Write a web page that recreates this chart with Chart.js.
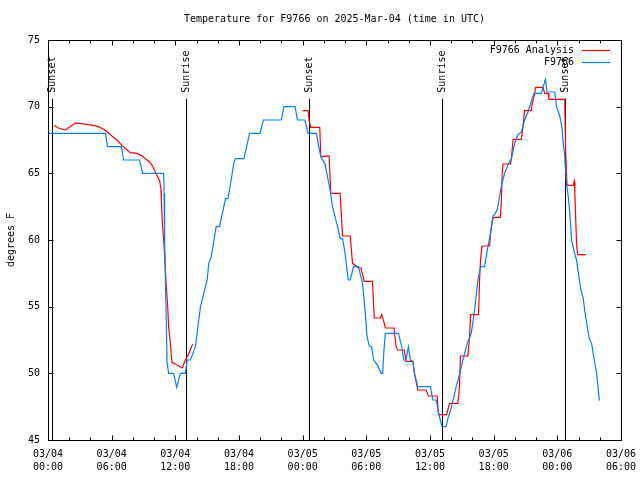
<!DOCTYPE html>
<html>
<head>
<meta charset="utf-8">
<script src="https://cdn.jsdelivr.net/npm/chart.js@4.4.1/dist/chart.umd.min.js"></script>
<style>
  html, body { margin: 0; padding: 0; background: #ffffff; }
  #wrap { width: 640px; height: 480px; position: relative; }
</style>
</head>
<body>
<div id="wrap"><canvas id="tempchart" width="640" height="480"></canvas></div>
<script>
// hours since 03/04 00:00 UTC
const blueHours = [0.09, 5.42, 5.60, 6.93, 7.12, 8.63, 8.91, 10.90, 10.94, 10.99, 11.12, 11.22, 11.37, 11.84, 12.13,
    12.48, 12.95, 13.11, 13.42, 13.89, 14.05, 14.37, 15.00, 15.15, 15.38, 15.85, 16.16, 16.73, 16.95, 17.14,
    17.51, 17.67, 18.46, 19.00, 19.97, 20.29, 21.99, 22.24, 23.28, 23.51, 24.22, 24.51, 25.30, 25.45, 25.71,
    26.09, 26.59, 26.81, 27.29, 27.53, 27.76, 27.98, 28.14, 28.29, 28.48, 28.80, 29.25, 29.65, 29.80, 29.96,
    30.06, 30.27, 30.50, 30.69, 31.07, 31.38, 31.54, 31.64, 31.79, 33.02, 33.34, 33.53, 33.74, 33.96, 34.15,
    34.38, 34.53, 34.85, 36.04, 36.27, 36.58, 36.89, 37.12, 37.52, 37.68, 38.00, 38.25, 38.47, 38.78, 39.10,
    39.51, 39.89, 40.20, 40.52, 40.77, 41.14, 41.30, 41.46, 41.71, 41.94, 42.16, 42.34, 42.50, 42.66, 43.03,
    43.41, 43.67, 43.98, 44.30, 44.61, 44.92, 45.24, 45.62, 45.81, 46.50, 46.76, 46.88, 47.02, 47.76, 47.92,
    48.23, 48.44, 48.55, 48.68, 48.77, 48.87, 49.03, 49.18, 49.34, 49.59, 49.81, 50.03, 50.22, 50.44, 50.60,
    50.82, 51.01, 51.23, 51.48, 51.70, 51.86, 51.96];
const blueTemps = [68.0, 68.0, 67.0, 67.0, 66.0, 66.0, 65.0, 65.0, 63.5, 60.0, 55.0, 50.8, 50.0, 50.0, 48.95,
    50.0, 50.0, 51.0, 51.0, 52.0, 53.0, 55.0, 57.0, 58.25, 58.75, 61.0, 61.0, 63.1, 63.1, 63.9,
    65.75, 66.1, 66.1, 68.0, 68.0, 69.0, 69.0, 70.0, 70.0, 69.0, 69.0, 68.0, 68.0, 67.25, 66.25,
    65.75, 63.75, 62.5, 61.0, 60.1, 60.1, 59.1, 58.0, 57.0, 57.0, 58.0, 58.0, 56.75, 55.4, 53.9,
    52.8, 52.05, 52.0, 51.0, 50.6, 50.0, 50.0, 51.5, 53.0, 53.0, 52.0, 51.0, 51.0, 52.0, 51.0,
    50.9, 50.0, 49.0, 49.0, 48.0, 48.0, 46.75, 46.0, 46.0, 46.6, 47.4, 48.25, 49.0, 49.9, 51.0,
    52.25, 53.0, 54.75, 57.0, 58.0, 58.0, 58.75, 59.5, 60.5, 61.8, 62.0, 62.3, 63.0, 63.8, 65.0,
    65.75, 66.1, 67.25, 67.9, 68.1, 69.0, 69.6, 70.6, 71.0, 71.0, 71.75, 72.05, 71.1, 71.1, 70.0,
    69.3, 68.4, 67.25, 66.5, 65.25, 64.25, 63.25, 62.0, 60.0, 59.1, 58.5, 57.25, 56.25, 55.6, 54.6,
    53.5, 52.6, 52.25, 51.0, 50.0, 48.75, 47.95];

const redHours = [0.57, 0.97, 1.61, 2.08, 2.55, 3.02, 4.28, 4.75, 5.23, 5.60, 6.02, 6.49, 6.97, 7.44, 7.75,
    8.38, 8.86, 9.33, 9.64, 9.90, 10.11, 10.33, 10.52, 10.65, 10.68, 10.78, 10.90, 10.99, 11.15, 11.28,
    11.37, 11.53, 11.60, 11.69, 12.00, 12.64, 12.95, 13.26, 13.58, 13.68,
    18.80,
    23.98, 24.51, 24.60, 24.76, 25.61, 25.71, 26.49, 26.65, 26.81, 27.53, 27.76, 28.48, 28.70, 29.18, 29.49,
    29.65, 29.80, 30.58, 30.75, 31.33, 31.45, 31.64, 31.79, 32.61, 32.80, 32.96, 33.58, 33.74, 34.38, 34.59,
    34.85, 35.63, 35.85, 36.67, 36.80, 37.57, 37.84, 38.63, 38.78, 38.87, 39.57, 39.73, 39.82, 40.58, 40.67,
    40.77, 40.90, 41.62, 41.71, 41.87, 42.03, 42.63, 42.72, 42.79, 42.88, 43.60, 43.67, 43.83, 44.61, 44.68,
    44.77, 44.92, 45.56, 45.62, 45.87, 45.94, 46.66, 46.81, 47.14, 47.21, 48.70, 48.77, 48.91, 49.50, 49.59,
    49.65, 49.81, 49.91, 50.69];
const redTemps = [68.6, 68.4, 68.25, 68.5, 68.75, 68.75, 68.6, 68.5, 68.3, 68.1, 67.8, 67.5, 67.1, 66.75, 66.55,
    66.5, 66.3, 66.0, 65.8, 65.5, 65.1, 64.75, 64.45, 63.75, 63.0, 61.25, 60.0, 58.9, 56.5, 55.0,
    53.5, 52.3, 51.5, 50.8, 50.7, 50.4, 51.0, 51.45, 52.1, 52.2,
    null,
    69.7, 69.7, 69.05, 68.45, 68.45, 66.25, 66.3, 63.5, 63.5, 63.5, 60.3, 60.3, 58.25, 57.95, 57.9,
    57.4, 56.9, 56.9, 54.15, 54.15, 54.4, 53.9, 53.4, 53.4, 52.0, 51.75, 51.75, 50.9, 50.9, 49.75,
    48.75, 48.75, 48.3, 48.3, 46.9, 46.9, 47.75, 47.75, 49.1, 51.3, 51.3, 52.75, 54.4, 54.4, 57.0,
    58.6, 59.55, 59.55, 60.6, 61.45, 61.7, 61.7, 62.75, 64.75, 65.7, 65.7, 66.1, 67.55, 67.55, 68.0,
    68.6, 69.7, 69.7, 70.2, 71.0, 71.45, 71.45, 71.0, 71.0, 70.55, 70.55, 67.0, 64.1, 64.1, 64.4,
    63.5, 59.75, 58.9, 58.9];

const sunHours = [0.41, 12.98, 24.60, 37.12, 48.70];
const sunLabels = ['Sunset', 'Sunrise', 'Sunset', 'Sunrise', 'Sunset'];
const sunLineTop = 70.6;

const yTickValues = [45, 50, 55, 60, 65, 70, 75];
const xStartDay = 4; // 03/04

const FONT = '10px "DejaVu Sans Mono", "Liberation Mono", monospace';

function toPoints(xs, ys) {
    return xs.map((x, i) => ({ x: x, y: ys[i] }));
}

function xTickLabel(value) {
    const day = xStartDay + Math.floor(value / 24);
    const hour = value % 24;
    return ['03/' + String(day).padStart(2, '0'), String(hour).padStart(2, '0') + ':00'];
}

// gnuplot style frame, inward ticks, sun markers, title and key
const gnuplotDecor = {
    id: 'gnuplotDecor',
    beforeDatasetsDraw(chart) {
        const ctx = chart.ctx;
        const xs = chart.scales.x;
        const ys = chart.scales.y;
        const area = chart.chartArea;
        ctx.save();
        ctx.strokeStyle = '#000000';
        ctx.lineWidth = 1;
        ctx.fillStyle = '#000000';
        ctx.font = FONT;
        sunHours.forEach((h, i) => {
            const px = Math.round(xs.getPixelForValue(h)) + 0.5;
            const top = ys.getPixelForValue(sunLineTop);
            ctx.beginPath();
            ctx.moveTo(px, top);
            ctx.lineTo(px, area.bottom);
            ctx.stroke();
            ctx.save();
            ctx.translate(px, top - 6);
            ctx.rotate(-Math.PI / 2);
            ctx.textAlign = 'left';
            ctx.textBaseline = 'middle';
            ctx.fillText(sunLabels[i], 0, 0);
            ctx.restore();
        });
        ctx.restore();
    },
    afterDraw(chart) {
        const ctx = chart.ctx;
        const xs = chart.scales.x;
        const ys = chart.scales.y;
        const a = chart.chartArea;
        const L = Math.round(a.left) + 0.5, R = Math.round(a.right) + 0.5;
        const T = Math.round(a.top) + 0.5, B = Math.round(a.bottom) + 0.5;
        ctx.save();
        ctx.strokeStyle = '#000000';
        ctx.lineWidth = 1;
        ctx.beginPath();
        // x ticks every 2 hours, major every 6
        for (let h = 0; h <= 54; h += 2) {
            const px = Math.round(xs.getPixelForValue(h)) + 0.5;
            const len = h % 6 === 0 ? 5 : 3;
            ctx.moveTo(px, B); ctx.lineTo(px, B - len);
            ctx.moveTo(px, T); ctx.lineTo(px, T + len);
        }
        yTickValues.forEach(v => {
            const py = Math.round(ys.getPixelForValue(v)) + 0.5;
            ctx.moveTo(L, py); ctx.lineTo(L + 5, py);
            ctx.moveTo(R, py); ctx.lineTo(R - 5, py);
        });
        ctx.stroke();
        ctx.strokeRect(L, T, R - L, B - T);

        ctx.fillStyle = '#000000';
        ctx.font = FONT;
        ctx.textBaseline = 'middle';
        ctx.textAlign = 'center';
        ctx.fillText('Temperature for F9766 on 2025-Mar-04 (time in UTC)', (a.left + a.right) / 2, 19);

        ctx.save();
        ctx.translate(11, (a.top + a.bottom) / 2);
        ctx.rotate(-Math.PI / 2);
        ctx.fillText('degrees F', 0, 0);
        ctx.restore();

        // key
        const keyItems = [chart.data.datasets[1], chart.data.datasets[0]];
        keyItems.forEach((ds, i) => {
            const y = 50 + i * 12;
            ctx.textAlign = 'right';
            ctx.fillStyle = '#000000';
            ctx.fillText(ds.label, 574, y);
            ctx.strokeStyle = ds.borderColor;
            ctx.lineWidth = 1.2;
            ctx.beginPath();
            ctx.moveTo(582, Math.round(y) + 0.5);
            ctx.lineTo(610, Math.round(y) + 0.5);
            ctx.stroke();
        });
        ctx.restore();
    }
};

const config = {
    type: 'line',
    data: {
        datasets: [
            {
                label: 'F9766',
                data: toPoints(blueHours, blueTemps),
                borderColor: '#0080ff',
                borderWidth: 1.2,
                pointRadius: 0,
                tension: 0,
                order: 0
            },
            {
                label: 'F9766 Analysis',
                data: toPoints(redHours, redTemps),
                borderColor: '#ff0000',
                borderWidth: 1.2,
                pointRadius: 0,
                tension: 0,
                spanGaps: false,
                order: 1
            }
        ]
    },
    options: {
        responsive: false,
        animation: false,
        layout: {
            padding: { left: 0, right: 19, top: 40, bottom: 0 }
        },
        plugins: {
            legend: { display: false },
            title: { display: false },
            tooltip: { enabled: false }
        },
        scales: {
            x: {
                type: 'linear',
                min: 0,
                max: 54,
                afterFit: (s) => { s.height = 40; s.paddingRight = 0; },
                afterBuildTicks: (s) => {
                    s.ticks = [0, 6, 12, 18, 24, 30, 36, 42, 48, 54].map(v => ({ value: v }));
                },
                grid: { display: false, drawTicks: false },
                border: { display: false },
                ticks: {
                    padding: 8,
                    maxRotation: 0,
                    autoSkip: false,
                    color: '#000000',
                    font: { family: '"DejaVu Sans Mono", monospace', size: 10, lineHeight: 1.3 },
                    callback: (v) => xTickLabel(v)
                }
            },
            y: {
                min: 45,
                max: 75,
                afterFit: (s) => { s.width = 48; },
                afterBuildTicks: (s) => {
                    s.ticks = yTickValues.map(v => ({ value: v }));
                },
                grid: { display: false, drawTicks: false },
                border: { display: false },
                ticks: {
                    padding: 8,
                    color: '#000000',
                    font: { family: '"DejaVu Sans Mono", monospace', size: 10 }
                }
            }
        }
    },
    plugins: [gnuplotDecor]
};

new Chart(document.getElementById('tempchart'), config);
</script>
</body>
</html>
